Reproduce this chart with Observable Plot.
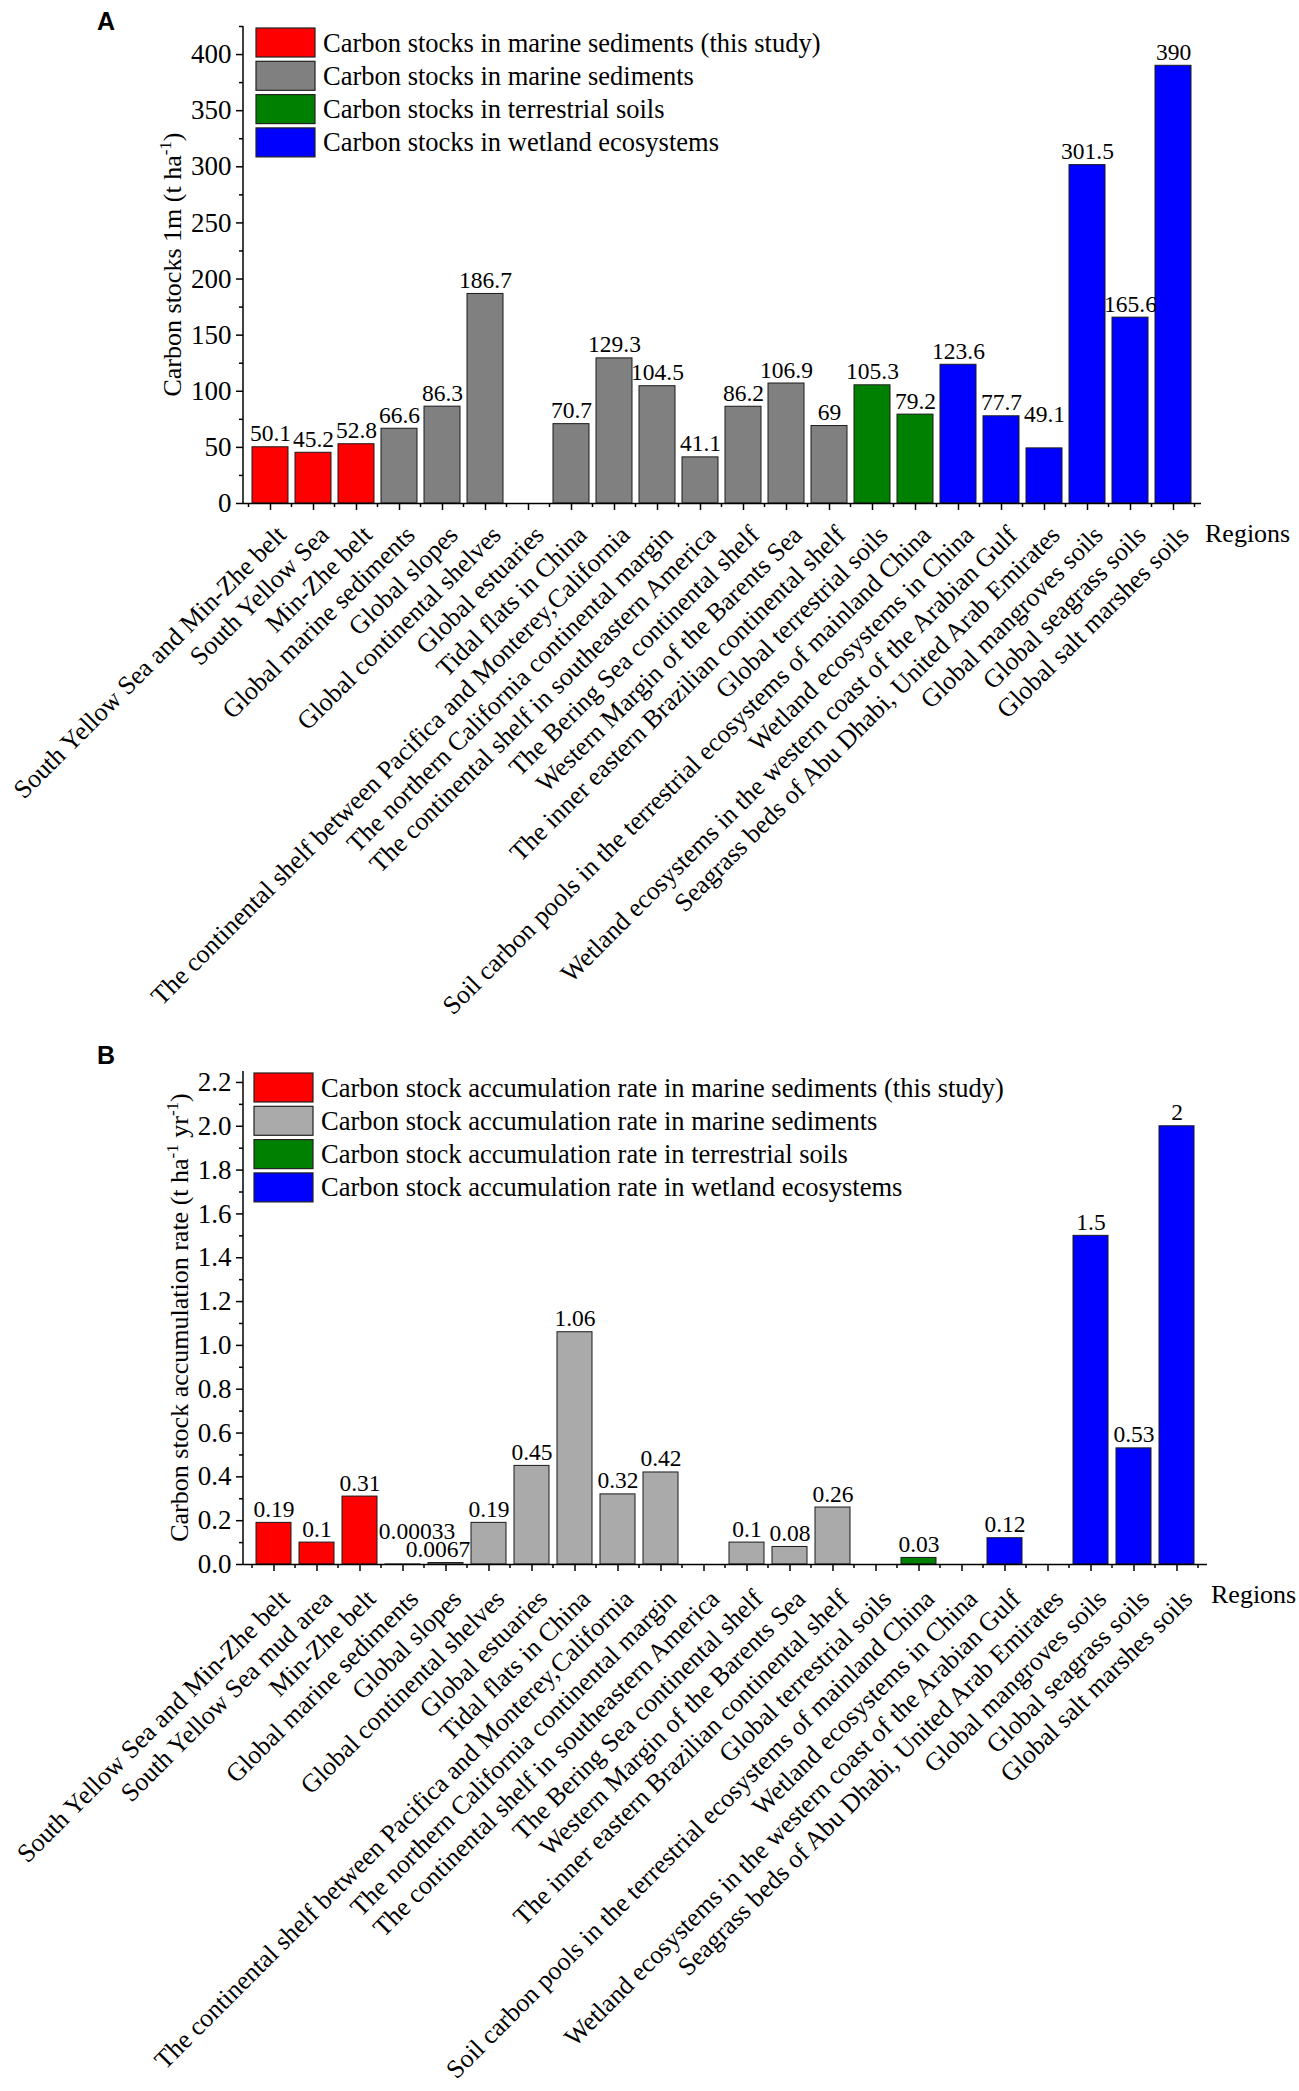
<!DOCTYPE html>
<html><head><meta charset="utf-8">
<script src="https://cdn.jsdelivr.net/npm/d3@7"></script>
<script src="https://cdn.jsdelivr.net/npm/@observablehq/plot@0.6"></script>
<style>
html,body{margin:0;padding:0;background:#fff;}
#wrap{position:relative;width:1299px;}
#wrap svg{display:block;}
</style></head><body><div id="wrap"></div>
<script>
// ---------- data ----------
const groupKeys = ["this study", "marine", "terrestrial", "wetland"];
const colorsA = ["#ff0000", "#808080", "#008000", "#0000ff"];
const colorsB = ["#ff0000", "#aaaaaa", "#008000", "#0000ff"];

const legendA = [
  "Carbon stocks in marine sediments (this study)",
  "Carbon stocks in marine sediments",
  "Carbon stocks in terrestrial soils",
  "Carbon stocks in wetland ecosystems"
];
const legendB = [
  "Carbon stock accumulation rate in marine sediments (this study)",
  "Carbon stock accumulation rate in marine sediments",
  "Carbon stock accumulation rate in terrestrial soils",
  "Carbon stock accumulation rate in wetland ecosystems"
];

const regionsA = [
  "South Yellow Sea and Min-Zhe belt", "South Yellow Sea", "Min-Zhe belt",
  "Global marine sediments", "Global slopes", "Global continental shelves",
  "Global estuaries", "Tidal flats in China",
  "The continental shelf between Pacifica and Monterey,California",
  "The northern California continental margin",
  "The continental shelf in southeastern America",
  "The Bering Sea continental shelf", "Western Margin of the Barents Sea",
  "The inner eastern Brazilian continental shelf", "Global terrestrial soils",
  "Soil carbon pools in the terrestrial ecosystems of mainland China",
  "Wetland ecosystems in China",
  "Wetland ecosystems in the western coast of the Arabian Gulf",
  "Seagrass beds of Abu Dhabi, United Arab Emirates",
  "Global mangroves soils", "Global seagrass soils", "Global salt marshes soils"
];
const regionsB = [
  "South Yellow Sea and Min-Zhe belt", "South Yellow Sea mud area", "Min-Zhe belt",
  "Global marine sediments", "Global slopes", "Global continental shelves",
  "Global estuaries", "Tidal flats in China",
  "The continental shelf between Pacifica and Monterey,California",
  "The northern California continental margin",
  "The continental shelf in southeastern America",
  "The Bering Sea continental shelf", "Western Margin of the Barents Sea",
  "The inner eastern Brazilian continental shelf", "Global terrestrial soils",
  "Soil carbon pools in the terrestrial ecosystems of mainland China",
  "Wetland ecosystems in China",
  "Wetland ecosystems in the western coast of the Arabian Gulf",
  "Seagrass beds of Abu Dhabi, United Arab Emirates",
  "Global mangroves soils", "Global seagrass soils", "Global salt marshes soils"
];
const groupIndex = [0,0,0,1,1,1,1,1,1,1,1,1,1,1,2,2,3,3,3,3,3,3];

const stocksA = [50.1, 45.2, 52.8, 66.6, 86.3, 186.7, null, 70.7, 129.3, 104.5, 41.1,
                 86.2, 106.9, 69, 105.3, 79.2, 123.6, 77.7, 49.1, 301.5, 165.6, 390];
const ratesB = [0.19, 0.1, 0.31, 0.00033, 0.0067, 0.19, 0.45, 1.06, 0.32, 0.42, null,
                0.1, 0.08, 0.26, null, 0.03, null, 0.12, null, 1.5, 0.53, 2];

const ticksA = [0, 50, 100, 150, 200, 250, 300, 350, 400];
const minorA = [25, 75, 125, 175, 225, 275, 325, 375, 425];
const ticksB = [0, 0.2, 0.4, 0.6, 0.8, 1.0, 1.2, 1.4, 1.6, 1.8, 2.0, 2.2];
const minorB = [0.1, 0.3, 0.5, 0.7, 0.9, 1.1, 1.3, 1.5, 1.7, 1.9, 2.1];

// ---------- chart builder ----------
const W = 1299;
function makeChart(cfg) {
  const data = cfg.regions.map((r, i) => ({region: r, value: cfg.values[i], group: groupKeys[groupIndex[i]]}))
                          .filter(d => d.value != null);
  const plain = data.filter(d => !cfg.nudges[d.region]);
  const lbl = d => String(d.value);
  const marks = [
    Plot.barY(data, {x: "region", y: "value", fill: "group", stroke: "#1a1a1a", strokeWidth: 1}),
    Plot.ruleY([0], {stroke: "black", strokeWidth: 1.5}),
    Plot.axisY(cfg.ticks, {tickSize: 7, tickPadding: 5, tickFormat: cfg.tickFormat, fontSize: 27, label: null, strokeWidth: 1.5}),
    Plot.axisY(cfg.minor, {tickSize: 4, tickFormat: () => "", label: null, strokeWidth: 1.5}),
    Plot.axisX({tickSize: 7, tickFormat: () => "", label: null, strokeWidth: 1.5}),
    Plot.text(cfg.regions, {x: d => d, frameAnchor: "bottom", rotate: -45, textAnchor: "end",
                            lineAnchor: "bottom", dx: 17, dy: cfg.labelDy, fontSize: 26}),
    Plot.text(plain, {x: "region", y: "value", text: lbl, dy: -6, lineAnchor: "bottom", fontSize: 23.5}),
    ...Object.entries(cfg.nudges).map(([r, [dx, dy]]) =>
      Plot.text(data.filter(d => d.region === r), {x: "region", y: "value", text: lbl, dx, dy: -6 + dy, lineAnchor: "bottom", fontSize: 23.5}))
  ];
  const plot = Plot.plot({
    width: W, height: cfg.height,
    marginLeft: cfg.marginLeft, marginRight: cfg.marginRight,
    marginTop: cfg.marginTop, marginBottom: cfg.marginBottom,
    style: {fontFamily: "'Liberation Serif', 'Times New Roman', serif", fontSize: "25px", background: "white", color: "black", overflow: "visible"},
    x: {type: "band", domain: cfg.regions, paddingInner: cfg.padIn, paddingOuter: cfg.padIn / 2},
    y: {domain: [0, cfg.ymax]},
    color: {domain: groupKeys, range: cfg.colors},
    marks
  });

  const svg = d3.select(plot);
  const x0 = cfg.marginLeft, x1 = W - cfg.marginRight;
  const y0 = cfg.marginTop, y1 = cfg.height - cfg.marginBottom;
  // y axis line
  svg.append("line").attr("x1", x0).attr("x2", x0).attr("y1", y0).attr("y2", y1)
     .attr("stroke", "black").attr("stroke-width", 1.5);
  // minor x ticks at category boundaries
  const xs = plot.scale("x");
  const n = cfg.regions.length;
  const step = xs.step || (x1 - x0) / n;
  const bw = xs.bandwidth || step * (1 - cfg.padIn);
  const bounds = cfg.regions.map(r => xs.apply(r) + bw / 2 - step / 2);
  bounds.push(xs.apply(cfg.regions[n - 1]) + bw / 2 + step / 2);
  bounds.forEach(b => svg.append("line").attr("x1", b).attr("x2", b).attr("y1", y1).attr("y2", y1 + 4)
     .attr("stroke", "black").attr("stroke-width", 1.5));
  // y axis title with superscripts
  const t = svg.append("text")
     .attr("transform", `translate(${cfg.titleX},${(y0 + y1) / 2}) rotate(-90)`)
     .attr("text-anchor", "middle").attr("font-size", 26).attr("fill", "black");
  let prevSup = false;
  cfg.titleParts.forEach(([s, sup]) => {
    const ts = t.append("tspan").text(s);
    if (sup) ts.attr("font-size", 17).attr("dy", -10);
    else if (prevSup) ts.attr("dy", 10);
    prevSup = !!sup;
  });
  // x axis title
  svg.append("text").attr("x", x1 + 4).attr("y", y1 + cfg.regionsDy).attr("font-size", 26)
     .attr("text-anchor", "start").attr("fill", "black").text("Regions");
  // panel letter
  svg.append("text").attr("x", 97).attr("y", cfg.letterY).attr("text-anchor", "start")
     .attr("font-family", "'Liberation Sans', Arial, sans-serif").attr("font-weight", "bold")
     .attr("font-size", 25).attr("fill", "black").text(cfg.letter);
  // legend
  const lg = svg.append("g").attr("text-anchor", "start");
  cfg.legend.forEach((s, i) => {
    const top = cfg.legendTop + i * 33.3;
    lg.append("rect").attr("x", cfg.legendX).attr("y", top).attr("width", 59).attr("height", 29)
      .attr("fill", cfg.colors[i]).attr("stroke", "#222").attr("stroke-width", 1.2);
    lg.append("text").attr("x", cfg.legendX + 67).attr("y", top + 23.5).attr("font-size", 26.5)
      .attr("text-anchor", "start").attr("fill", "black").text(s);
  });
  return plot;
}

const wrap = document.getElementById("wrap");
wrap.appendChild(makeChart({
  regions: regionsA, values: stocksA, colors: colorsA, legend: legendA,
  ticks: ticksA, minor: minorA, tickFormat: d3.format("d"), ymax: 425,
  height: 1040, marginTop: 26, marginBottom: 537, marginLeft: 243, marginRight: 98,
  padIn: 0.16, labelDy: 33, regionsDy: 39, titleX: 181, letter: "A", letterY: 30,
  legendX: 256, legendTop: 28,
  titleParts: [["Carbon stocks 1m (t ha", 0], ["-1", 1], [")", 0]],
  nudges: {"Seagrass beds of Abu Dhabi, United Arab Emirates": [0, -20]}
}));
wrap.appendChild(makeChart({
  regions: regionsB, values: ratesB, colors: colorsB, legend: legendB,
  ticks: ticksB, minor: minorB, tickFormat: d3.format(".1f"), ymax: 2.25,
  height: 1051, marginTop: 31, marginBottom: 527, marginLeft: 243, marginRight: 92,
  padIn: 0.19, labelDy: 36, regionsDy: 39, titleX: 188, letter: "B", letterY: 24,
  legendX: 254, legendTop: 33,
  titleParts: [["Carbon stock accumulation rate (t ha", 0], ["-1", 1], [" yr", 0], ["-1", 1], [")", 0]],
  nudges: {"Global marine sediments": [14, -19], "Global slopes": [-8, 0]}
}));
</script></body></html>
